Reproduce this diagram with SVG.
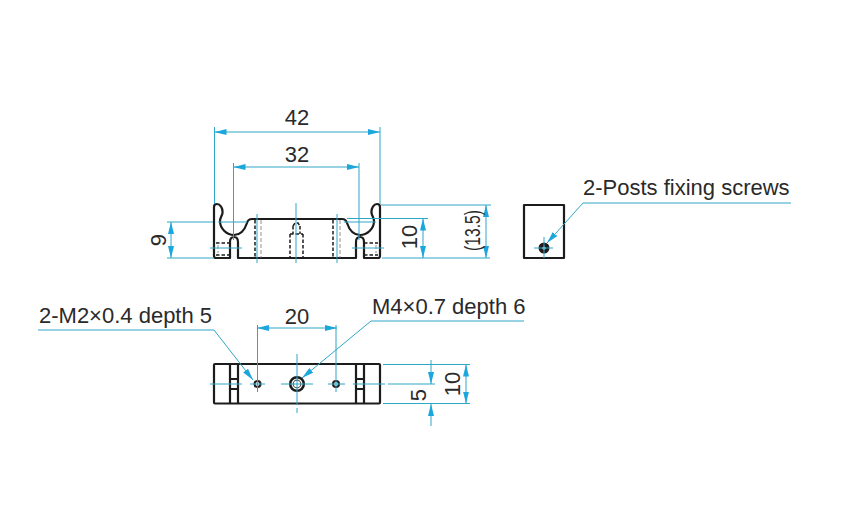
<svg xmlns="http://www.w3.org/2000/svg" width="847" height="515" viewBox="0 0 847 515">
<defs>
<marker id="ah" viewBox="0 0 12 6" refX="12" refY="3" markerWidth="12" markerHeight="6" markerUnits="userSpaceOnUse" orient="auto-start-reverse"><path d="M0 0L12 3L0 6Z" fill="#1ba6dc"/></marker>
</defs>
<style>
.o{fill:none;stroke:#1c1c1c;stroke-width:2.2;stroke-linejoin:round}
.d{fill:none;stroke:#1c1c1c;stroke-width:1.5;stroke-dasharray:3.5 2}
.t{fill:none;stroke:#777;stroke-width:.8;stroke-dasharray:4 2}
.c{fill:none;stroke:#2ea6c6;stroke-width:1}
.a{fill:none;stroke:#2ea6c6;stroke-width:1;marker-start:url(#ah);marker-end:url(#ah)}
.e{fill:none;stroke:#2ea6c6;stroke-width:1;marker-end:url(#ah)}
text{font-family:"Liberation Sans",Arial,sans-serif;font-size:22px;fill:#2a2a2a}
</style>
<rect width="847" height="515" fill="#fff"/>
<g id="front-view">
<path class="o" d="M214 256V207Q214 204 217 204C220 204 223 208 222.500 213C222 216 220 218 220 221C220 229 227 235 234 235C241 235 245 229 247 223Q248 219 252 219H342Q346 219 347 223C349 229 353 235 360 235C367 235 374 229 374 221C374 218 372 216 371.500 213C371 208 374 204 377 204Q380 204 380 207V256Q380 258 378 258H364V242Q364 237 360 237Q356 237 356 242V258H238V242Q238 237 234 237Q230 237 230 242V258H216Q214 258 214 256Z"/>
<path class="d" d="M255 220V258M333 220V258M290 234V258M303 234V258M290 234H303M293 226V234M300 226V234M293 226L295 223H298L300 226M216 243H230M216 255H230M364 243H378M364 255H378"/>
<path class="t" d="M261 220V258M340 220V258M218 245V253M376 245V253"/>
</g>
<g id="side-view">
<rect class="o" x="524" y="205" width="40" height="53"/>
<circle cx="544" cy="248" r="5.500" fill="#1c1c1c"/>
<circle cx="544" cy="248" r="1.600" fill="#fff"/>
</g>
<g id="top-view">
<rect class="o" x="214" y="364" width="166" height="39.500" rx="1"/>
<path class="o" d="M230 364V403M238 364V403M356 364V403M364 364V403M230 379H238M230 389H238M356 379H364M356 389H364"/>
<circle cx="257.500" cy="384" r="3" fill="#fff" stroke="#1c1c1c" stroke-width="2"/>
<circle cx="336" cy="384" r="3" fill="#fff" stroke="#1c1c1c" stroke-width="2"/>
<circle cx="297" cy="384" r="6.800" fill="#fff" stroke="#1c1c1c" stroke-width="2.600"/>
<circle cx="297" cy="384" r="3.800" fill="#fff" stroke="#555" stroke-width="1.200"/>
</g>
<g id="connectors">
<path class="c" d="M214.500 127V204M380 127V204M233.500 163V240M359 163V240M296 203V263M257 214V263M337 214V263M210 248H242M352 248H384M534 248H553M544 237V258M167 222H213M218 222H247M344 222H376M167 258H214M381 205H491M347 218.500H428M382 258H490"/>
<path class="a" d="M214.500 132H380"/>
<path class="a" d="M233.500 167H359"/>
<path class="a" d="M171 222V258"/>
<path class="a" d="M423 218.500V258"/>
<path class="a" d="M486 205V258"/>
<path class="e" d="M791 203H583L547 243"/>
<path class="e" d="M38 330H214L253 380"/>
<path class="e" d="M524 321H371L302 378"/>
<path class="a" d="M257 328H337"/>
<path class="c" d="M257.500 325V392M336 325V392M297 354V405M297 408V413M210 384H242M250 384H265M281 384H313M328 384H345M353 384H385M388 384H435M383 364.500H470M383 403.500H470"/>
<path class="e" d="M431 360V384"/>
<path class="e" d="M431 426V404"/>
<path class="a" d="M466 364.500V403.500"/>
</g>
<g id="labels">
<text x="297" y="125" text-anchor="middle">42</text>
<text x="297" y="162" text-anchor="middle">32</text>
<text x="297" y="324" text-anchor="middle">20</text>
<text x="583" y="195">2-Posts fixing screws</text>
<text x="39" y="323">2-M2×0.4 depth 5</text>
<text x="372" y="314">M4×0.7 depth 6</text>
<text transform="translate(166 240) rotate(-90)" text-anchor="middle">9</text>
<text transform="translate(417 237) rotate(-90)" text-anchor="middle">10</text>
<text transform="translate(480 210) rotate(-90) translate(-41 0)" textLength="41" lengthAdjust="spacingAndGlyphs">(13.5)</text>
<text transform="translate(426 395) rotate(-90)" text-anchor="middle">5</text>
<text transform="translate(460 384) rotate(-90)" text-anchor="middle">10</text>
</g>
</svg>
